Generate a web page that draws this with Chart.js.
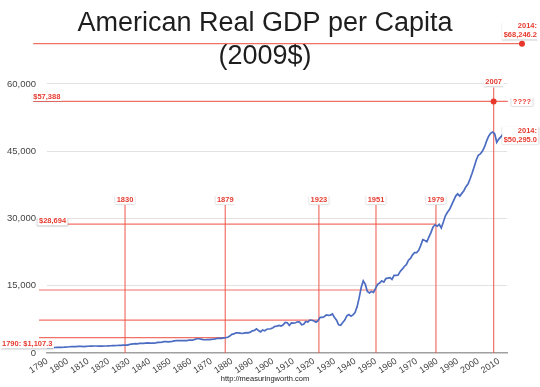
<!DOCTYPE html>
<html>
<head>
<meta charset="utf-8">
<script src="https://cdn.jsdelivr.net/npm/chart.js@4.4.1/dist/chart.umd.min.js"></script>
<style>
  html, body { margin: 0; padding: 0; background: #fff; }
  canvas { display: block; }
</style>
</head>
<body>
<canvas id="gdpChart" width="540" height="387"></canvas>
<script>
// real GDP per capita, 2009 dollars, one value per year from 1790
const FIRST_YEAR = 1790;
const GDP = [
  1107, 1140, 1170, 1190, 1230, 1250, 1260, 1270, 1280, 1330,
  1340, 1390, 1420, 1400, 1420, 1460, 1490, 1480, 1420, 1480,
  1500, 1520, 1520, 1560, 1560, 1540, 1530, 1540, 1560, 1560,
  1590, 1620, 1630, 1630, 1670, 1710, 1720, 1760, 1740, 1760,
  1880, 2000, 2050, 2080, 2050, 2130, 2150, 2140, 2190, 2250,
  2210, 2200, 2220, 2250, 2350, 2380, 2430, 2530, 2520, 2480,
  2550, 2600, 2720, 2780, 2760, 2780, 2770, 2750, 2740, 2870,
  2850, 2850, 3050, 3180, 3180, 3100, 2980, 2960, 2990, 2980,
  3050, 3080, 3150, 3280, 3250, 3250, 3370, 3430, 3520, 3780,
  4150, 4250, 4500, 4480, 4430, 4350, 4450, 4550, 4500, 4650,
  4950, 5050, 5400, 5000, 4700, 5150, 4950, 5300, 5350, 5400,
  5650, 5950, 6000, 6150, 6000, 6300, 6800, 6750, 6150, 6700,
  6650, 6750, 6950, 6900, 6300, 6400, 7050, 6900, 7350, 7300,
  7150, 6850, 7200, 7950, 7950, 8100, 8500, 8400, 8450, 8700,
  7900, 7300, 6300, 6200, 6800, 7350, 8300, 8600, 8200, 8500,
  9000, 10300, 12300, 14600, 16100, 15300, 13700, 13400, 13700, 13500,
  14400, 15300, 15600, 16100, 15800, 16600, 16700, 16800, 16400, 17300,
  17300, 17400, 18200, 18700, 19300, 19700, 20700, 21100, 21900, 22400,
  22400, 22900, 24000, 25300, 25100, 24800, 25900, 26900, 28100, 28600,
  28300, 28700, 27900, 29200, 30600, 31400, 32000, 33000, 34000, 35000,
  35500, 35000, 35600, 36200, 37100, 37700, 38800, 40100, 41500, 43000,
  44100, 44400, 45000, 45900, 47200, 48300, 49000, 49300, 48900, 47000,
  47700, 48200, 48800, 49400, 50295
];
const YEARS = GDP.map((_, i) => FIRST_YEAR + i);

const X_TICKS = [1790, 1800, 1810, 1820, 1830, 1840, 1850, 1860, 1870, 1880, 1890,
  1900, 1910, 1920, 1930, 1940, 1950, 1960, 1970, 1980, 1990, 2000, 2010];
const Y_TICKS = [0, 15000, 30000, 45000, 60000];

// hand drawn red guide lines
const HLINE_VALUES = [69000, 56100, 28750, 14050, 7350, 3450];
const HLINE_FROM = [1783.3, 1783.3, 1786.1, 1786.1, 1786.1, 1786.1];
const HLINE_TO = [2021.3, 2014.4, 1979.4, 1950.2, 1922.4, 1876.8];
const VLINE_YEARS = [1828, 1876.8, 1922.4, 1950.2, 1979.4, 2007.5];
const VLINE_TOPS = [33000, 33000, 33000, 33000, 33000, 59200];
const VLINE_LABELS = ['1830', '1879', '1923', '1951', '1979', '2007'];
const MARKER_YEARS = [2007.5, 2021.3];
const MARKER_VALUES = [56100, 69000];

const FONT = '"Liberation Sans", Arial, Helvetica, sans-serif';
const RED_LINE = 'rgba(238, 88, 76, 0.85)';
const RED_TEXT = '#e63b30';

Chart.defaults.font.family = FONT;
Chart.defaults.color = '#444';

const guideLine = {
  borderColor: RED_LINE,
  borderWidth: 1.2,
  pointRadius: 0,
  clip: false,
  tension: 0
};

const datasets = [{
  data: YEARS.map((y, i) => ({ x: y, y: GDP[i] })),
  borderColor: '#4b6cc1',
  borderWidth: 1.7,
  pointRadius: 0,
  tension: 0
}];
HLINE_VALUES.forEach((v, i) => {
  datasets.push(Object.assign({
    data: [{ x: HLINE_FROM[i], y: v }, { x: HLINE_TO[i], y: v }]
  }, guideLine));
});
VLINE_YEARS.forEach((yr, i) => {
  datasets.push(Object.assign({
    data: [{ x: yr, y: 0 }, { x: yr, y: VLINE_TOPS[i] }]
  }, guideLine));
});

function tag(ctx, lines, x, y, align) {
  ctx.save();
  ctx.font = 'bold 7.5px ' + FONT;
  const lh = 9;
  const widths = lines.map(l => ctx.measureText(l).width);
  const w = Math.max(...widths);
  const left = align === 'left' ? x : align === 'right' ? x - w : x - w / 2;
  ctx.shadowColor = 'rgba(0,0,0,0.3)';
  ctx.shadowBlur = 1.5;
  ctx.shadowOffsetY = 1;
  ctx.fillStyle = '#fff';
  ctx.fillRect(left - 1.5, y - lh / 2, w + 3, lines.length * lh);
  ctx.shadowColor = 'transparent';
  ctx.fillStyle = RED_TEXT;
  ctx.textBaseline = 'middle';
  ctx.textAlign = 'left';
  lines.forEach((l, i) => {
    const dx = align === 'right' ? w - widths[i] : align === 'center' ? (w - widths[i]) / 2 : 0;
    ctx.fillText(l, left + dx, y + i * lh);
  });
  ctx.restore();
}

const notes = {
  id: 'notes',
  afterDatasetsDraw(chart) {
    const ctx = chart.ctx;
    const xs = v => chart.scales.x.getPixelForValue(v);
    const ys = v => chart.scales.y.getPixelForValue(v);

    ctx.save();
    ctx.fillStyle = '#e8362b';
    MARKER_YEARS.forEach((yr, i) => {
      ctx.beginPath();
      ctx.arc(xs(yr), ys(MARKER_VALUES[i]), 3, 0, Math.PI * 2);
      ctx.fill();
    });
    ctx.restore();

    VLINE_YEARS.forEach((yr, i) => {
      tag(ctx, [VLINE_LABELS[i]], xs(yr), ys(VLINE_TOPS[i]) - 5.5, 'center');
    });
    tag(ctx, ['2014:', '$68,246.2'], xs(MARKER_YEARS[1]) + 15, ys(MARKER_VALUES[1]) - 17.5, 'right');
    tag(ctx, ['????'], xs(HLINE_TO[1]) + 5, ys(HLINE_VALUES[1]), 'left');
    tag(ctx, ['$57,388'], xs(HLINE_FROM[1]), ys(HLINE_VALUES[1]) - 5, 'left');
    tag(ctx, ['2014:', '$50,295.0'], xs(2014) + 30, ys(GDP[GDP.length - 1]) + 3.3, 'right');
    tag(ctx, ['$28,694'], xs(HLINE_FROM[2]), ys(HLINE_VALUES[2]) - 3, 'left');
    tag(ctx, ['1790: $1,107.3'], xs(FIRST_YEAR) - 45, ys(GDP[0]) - 4, 'left');
  }
};

new Chart(document.getElementById('gdpChart'), {
  type: 'line',
  data: { datasets },
  plugins: [notes],
  options: {
    responsive: false,
    animation: false,
    layout: { padding: { left: 0, right: 10, top: 0, bottom: 0 } },
    plugins: {
      legend: { display: false },
      tooltip: { enabled: false },
      title: {
        display: true,
        text: ['American Real GDP per Capita', '(2009$)'],
        color: '#1e1e1e',
        font: { size: 27, weight: 'normal', lineHeight: 1.222 },
        padding: { top: 7, bottom: 11 }
      },
      subtitle: {
        display: true,
        position: 'bottom',
        text: 'http://measuringworth.com',
        color: '#222',
        font: { size: 7.5, weight: 'normal' },
        padding: { top: 0, bottom: 4 }
      }
    },
    scales: {
      x: {
        type: 'linear',
        min: 1790,
        max: 2014,
        afterBuildTicks: s => { s.ticks = X_TICKS.map(v => ({ value: v })); },
        afterFit: s => { s.height = 21; },
        grid: { display: false, drawTicks: false },
        border: { display: true, color: '#a0a0a0', width: 1.5 },
        ticks: {
          autoSkip: false,
          minRotation: 33,
          maxRotation: 33,
          padding: 3,
          font: { size: 9 },
          color: '#444',
          callback: v => String(v)
        }
      },
      y: {
        min: 0,
        max: 60000,
        afterBuildTicks: s => { s.ticks = Y_TICKS.map(v => ({ value: v })); },
        afterFit: s => { s.width = 47; },
        grid: {
          drawTicks: false,
          color: c => (c.tick && c.tick.value === 0) ? 'rgba(0,0,0,0)' : '#e2e2e2'
        },
        border: { display: false },
        ticks: {
          padding: 11,
          font: { size: 9.5 },
          color: '#444',
          callback: v => v.toLocaleString('en-US')
        }
      },
      // empty right-hand strip so the centred title sits where it does in the original
      yRight: {
        position: 'right',
        afterFit: s => { s.width = 23; },
        grid: { display: false, drawTicks: false },
        border: { display: false },
        ticks: { display: false }
      }
    }
  }
});
</script>
</body>
</html>
